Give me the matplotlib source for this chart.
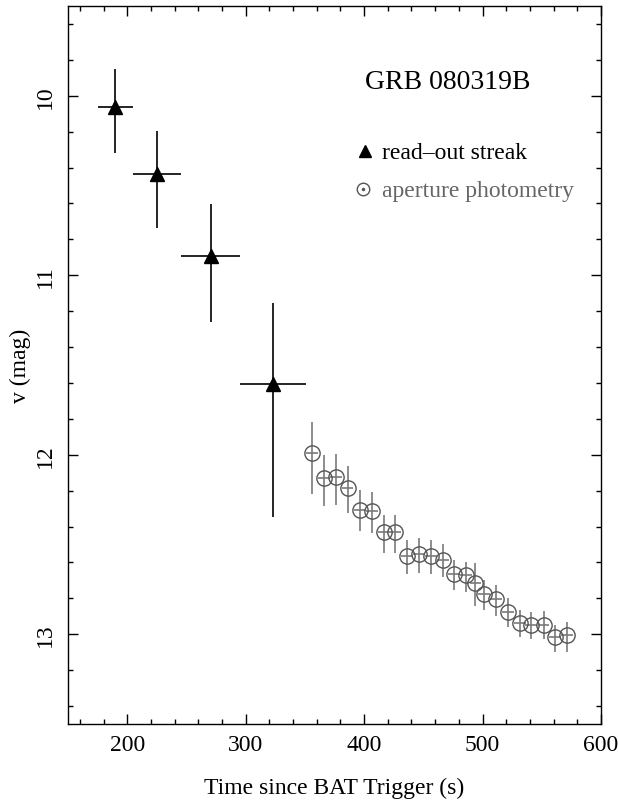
import matplotlib
matplotlib.use("Agg")
import matplotlib.pyplot as plt
from matplotlib.ticker import MultipleLocator
import numpy as np

# read-out streak (triangles)
streak_t = [190, 225, 270.5, 323]
streak_t_err = [15, 20, 25, 28]
streak_mag = [10.065, 10.434, 10.892, 11.604]
streak_mag_err_lo = [0.215, 0.24, 0.29, 0.45]
streak_mag_err_hi = [0.255, 0.30, 0.37, 0.745]

# aperture photometry (circles)
ap_t = [356, 366, 376, 386, 396.5, 406.5, 416.5, 426.5, 436.5, 446.5, 456.5, 466.5,
        476, 486, 494, 501, 511.5, 521.5, 531.5, 541, 551.5, 561.5, 571]
ap_mag = [11.993, 12.132, 12.123, 12.184, 12.306, 12.313, 12.432, 12.432, 12.562, 12.553,
          12.562, 12.585, 12.663, 12.672, 12.715, 12.775, 12.804, 12.877, 12.935, 12.948,
          12.948, 13.013, 13.004]
ap_err_lo = [0.177, 0.128, 0.128, 0.121, 0.112, 0.106, 0.099, 0.099, 0.089, 0.089, 0.089, 0.089,
             0.078, 0.074, 0.112, 0.078, 0.080, 0.078, 0.071, 0.074, 0.080, 0.063, 0.074]
ap_err_hi = [0.223, 0.155, 0.155, 0.140, 0.121, 0.123, 0.115, 0.115, 0.101, 0.106, 0.101, 0.097,
             0.093, 0.095, 0.130, 0.089, 0.097, 0.080, 0.082, 0.080, 0.080, 0.084, 0.093]
ap_t_err = [5] * len(ap_t)

title = "GRB 080319B"
legend_labels = ["read\u2013out streak", "aperture photometry"]

plt.rcParams['font.family'] = ['Liberation Serif', 'DejaVu Serif']
plt.rcParams['mathtext.fontset'] = 'stix'

fig = plt.figure(figsize=(6.18, 8.04), dpi=100)
ax = fig.add_axes([68/618, 1-725/804, 533/618, 718/804])

gray_bar = '#7a7a7a'
gray_mk = '#555555'

ax.errorbar(ap_t, ap_mag, yerr=[ap_err_lo, ap_err_hi], xerr=ap_t_err, fmt='none',
            ecolor=gray_bar, elinewidth=1.2, capsize=0, zorder=2)
ax.plot(ap_t, ap_mag, 'o', ms=11, mfc='none', mec=gray_mk, mew=1.0, ls='none', zorder=3)

ax.errorbar(streak_t, streak_mag, yerr=[streak_mag_err_lo, streak_mag_err_hi], xerr=streak_t_err,
            fmt='^', ms=10.5, color='black', ecolor='black', elinewidth=1.2, capsize=0, zorder=4)

ax.set_xlim(150, 600)
ax.set_ylim(13.5, 9.5)
ax.xaxis.set_major_locator(MultipleLocator(100))
ax.xaxis.set_minor_locator(MultipleLocator(20))
ax.yaxis.set_major_locator(MultipleLocator(1))
ax.yaxis.set_minor_locator(MultipleLocator(0.2))
ax.tick_params(which='both', direction='in', top=True, right=True, labelsize=17, width=1)
ax.tick_params(which='major', length=7)
ax.tick_params(which='minor', length=3.5)
ax.tick_params(axis='x', which='major', pad=7)
ax.tick_params(axis='y', which='major', pad=9)
for lab in ax.get_yticklabels():
    lab.set_rotation(90)
    lab.set_va('center')
for s in ax.spines.values():
    s.set_linewidth(1)

ax.set_xlabel("Time since BAT Trigger (s)", fontsize=17, labelpad=16)
ax.set_ylabel("v (mag)", fontsize=17, labelpad=2.5)

ax.text(0.713, 0.8955, title, transform=ax.transAxes, ha='center', va='center', fontsize=20)

# legend
ax.plot([0.557], [0.7985], '^', ms=9, color='black', transform=ax.transAxes, clip_on=False)
ax.text(0.589, 0.7965, legend_labels[0], transform=ax.transAxes, ha='left', va='center',
        fontsize=17, color='black')
ax.plot([0.5535], [0.745], 'o', ms=9, mfc='none', mec=gray_mk, mew=1.0, transform=ax.transAxes)
ax.plot([0.5535], [0.745], 'o', ms=1.5, color=gray_mk, transform=ax.transAxes)
ax.text(0.589, 0.743, legend_labels[1], transform=ax.transAxes, ha='left', va='center',
        fontsize=17, color='#666666')

fig.savefig("out.png", dpi=100)
